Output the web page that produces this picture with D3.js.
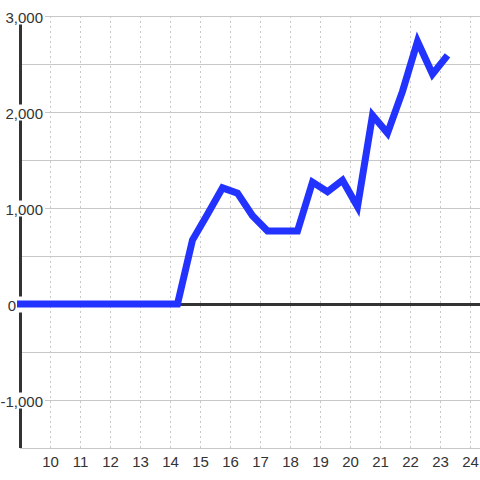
<!DOCTYPE html>
<html lang="en">
<head>
<meta charset="utf-8">
<style>
  body { margin: 0; background: #fff; }
  svg { display: block; font-family: "Liberation Sans", Arial, sans-serif; }
  .grid-h { stroke: #c8c8c8; stroke-width: 1px; }
  .grid-v { stroke: #c8c8c8; stroke-width: 1px; stroke-dasharray: 2,3; }
  .axis-line { stroke: #333; stroke-width: 3px; }
  .label { fill: #333; font-size: 15px; }
  .series { fill: none; stroke: #2233ff; stroke-width: 7px; }
</style>
<script src="https://d3js.org/d3.v7.min.js"></script>
</head>
<body>
<script>
// hour of day (half-hour samples) and running value
var times = [8.75, 9.25, 9.75, 10.25, 10.75, 11.25, 11.75, 12.25, 12.75, 13.25, 13.75, 14.25,
             14.75, 15.25, 15.75, 16.25, 16.75, 17.25, 17.75, 18.25, 18.75, 19.25, 19.75,
             20.25, 20.75, 21.25, 21.75, 22.25, 22.75, 23.25];
var values = [0, 0, 0, 0, 0, 0, 0, 0, 0, 0, 0, 0,
              667, 935, 1210, 1155, 920, 760, 760, 760, 1270, 1170, 1290,
              1015, 1965, 1780, 2215, 2735, 2395, 2590];
var xTicks = [10, 11, 12, 13, 14, 15, 16, 17, 18, 19, 20, 21, 22, 23, 24];
var yGridTicks = [-1500, -1000, -500, 0, 500, 1000, 1500, 2000, 2500, 3000];
var yLabelTicks = [3000, 2000, 1000, 0, -1000];

var width = 480, height = 480;
var plotLeft = 20, plotTop = 16, plotBottom = 448;

var x = d3.scaleLinear().domain([9, 25]).range([plotLeft, 500]);
var y = d3.scaleLinear().domain([-1500, 3000]).range([plotBottom, plotTop]);

var fmt = d3.formatLocale({decimal: ".", thousands: ",", grouping: [3], currency: ["", ""], minus: "-"}).format(",");

var svg = d3.select("body").append("svg")
    .attr("width", width)
    .attr("height", height);

svg.append("defs").append("clipPath").attr("id", "plot")
  .append("rect").attr("x", plotLeft - 3).attr("y", 0).attr("width", width).attr("height", plotBottom);

// horizontal grid
svg.append("g").selectAll("line")
    .data(yGridTicks)
    .enter().append("line")
    .attr("class", "grid-h")
    .attr("x1", plotLeft).attr("x2", width)
    .attr("y1", function(d) { return Math.round(y(d)) + 0.5; })
    .attr("y2", function(d) { return Math.round(y(d)) + 0.5; });

// vertical dashed grid
svg.append("g").selectAll("line")
    .data(xTicks)
    .enter().append("line")
    .attr("class", "grid-v")
    .attr("x1", function(d) { return Math.round(x(d)) + 0.5; })
    .attr("x2", function(d) { return Math.round(x(d)) + 0.5; })
    .attr("y1", plotTop).attr("y2", plotBottom);

// y axis and zero line
svg.append("line").attr("class", "axis-line")
    .attr("x1", x(9) + 0.5).attr("x2", x(9) + 0.5)
    .attr("y1", plotTop).attr("y2", plotBottom);
svg.append("line").attr("class", "axis-line")
    .attr("x1", plotLeft).attr("x2", width)
    .attr("y1", y(0) + 0.5).attr("y2", y(0) + 0.5);

// y labels with background
var yAxis = svg.append("g")
    .attr("transform", "translate(" + plotLeft + ",0)")
    .call(d3.axisLeft(y).tickValues(yLabelTicks).tickSize(0).tickFormat(fmt));
yAxis.select(".domain").remove();
yAxis.selectAll(".tick").insert("rect", "text")
    .attr("x", -plotLeft).attr("y", -8)
    .attr("width", 45).attr("height", 16)
    .attr("fill", "#fff");
yAxis.selectAll(".tick text")
    .attr("class", "label")
    .attr("fill", null)
    .attr("x", function(d) { return d === 0 ? -4 : 23; })
    .attr("dy", "0.4em");

// x labels
var xAxis = svg.append("g")
    .attr("transform", "translate(0," + plotBottom + ")")
    .call(d3.axisBottom(x).tickValues(xTicks).tickSize(0).tickPadding(8).tickFormat(d3.format("d")));
xAxis.select(".domain").remove();
xAxis.selectAll(".tick text")
    .attr("class", "label")
    .attr("fill", null);

// series
var line = d3.line()
    .x(function(d, i) { return x(times[i]); })
    .y(function(d) { return y(d); });

svg.append("path")
    .datum(values)
    .attr("class", "series")
    .attr("clip-path", "url(#plot)")
    .attr("d", line);
</script>
</body>
</html>
